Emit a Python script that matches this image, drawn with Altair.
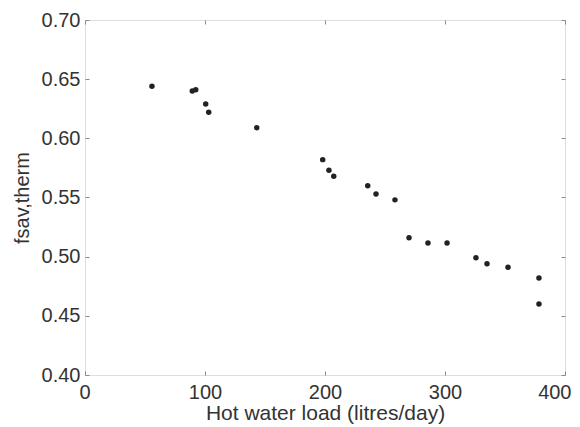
import altair as alt
import pandas as pd

# Data
hot_water_load = [55.8, 89.4, 92.3, 100.6, 103.1, 143.1, 198.1, 203.3, 207.3, 235.6,
                  242.5, 258.3, 270.0, 285.8, 301.7, 325.8, 335.0, 352.5, 378.3, 378.3]
fsav_therm = [0.644, 0.640, 0.641, 0.629, 0.622, 0.609, 0.582, 0.573, 0.568, 0.560,
              0.553, 0.548, 0.516, 0.5115, 0.5115, 0.499, 0.494, 0.491, 0.482, 0.460]
x_ticks = [0, 100, 200, 300, 400]
y_ticks = [0.40, 0.45, 0.50, 0.55, 0.60, 0.65, 0.70]

df = pd.DataFrame({"load": hot_water_load, "fsav": fsav_therm})

W, H = 480, 355
FONT = "Liberation Sans"
TXT = "#333333"
AX = "#8a8a8a"

xs = alt.Scale(domain=[0, 400], nice=False, zero=False)
ys = alt.Scale(domain=[0.40, 0.70], nice=False, zero=False)

common_tick = dict(grid=False, domain=False, ticks=True, labels=False, title="",
                   tickColor=AX, tickSize=4, tickWidth=1)

base = alt.Chart(df)

points = base.mark_circle(size=30, color="#222222", opacity=1).encode(
    x=alt.X("load:Q", scale=xs, axis=alt.Axis(
        orient="bottom", values=x_ticks, format="d", title="Hot water load (litres/day)",
        grid=False, domain=False, ticks=False, labelPadding=7,
        labelFont=FONT, labelFontSize=20, labelColor=TXT,
        titleFont=FONT, titleFontSize=21, titleFontWeight="normal", titleColor=TXT,
        titlePadding=0, labelFlush=True, labelFlushOffset=6)),
    y=alt.Y("fsav:Q", scale=ys, axis=alt.Axis(
        orient="left", values=y_ticks, format=".2f", title="fsav,therm",
        grid=False, domain=False, ticks=False, labelPadding=5,
        labelFont=FONT, labelFontSize=20, labelColor=TXT,
        titleFont=FONT, titleFontSize=20, titleFontWeight="normal", titleColor=TXT,
        titlePadding=9)),
)

# inward ticks at bottom and left edges
ticks_a = base.mark_point(opacity=0).encode(
    x=alt.X("load:Q", scale=xs, axis=alt.Axis(orient="top", offset=-H, values=x_ticks, **common_tick)),
    y=alt.Y("fsav:Q", scale=ys, axis=alt.Axis(orient="right", offset=-W, values=y_ticks, **common_tick)),
)
# inward ticks at top and right edges
ticks_b = base.mark_point(opacity=0).encode(
    x=alt.X("load:Q", scale=xs, axis=alt.Axis(orient="bottom", offset=-H, values=x_ticks, **common_tick)),
    y=alt.Y("fsav:Q", scale=ys, axis=alt.Axis(orient="left", offset=-W, values=y_ticks, **common_tick)),
)

chart = alt.layer(points, ticks_a, ticks_b).resolve_axis(
    x="independent", y="independent"
).properties(
    width=W, height=H,
    autosize=alt.AutoSizeParams(type="none"),
    padding={"left": 77, "top": 12, "right": 7, "bottom": 50},
).configure_view(
    stroke=AX, strokeWidth=1.5
).configure(background="white")

chart.save("out.html", embed_options={"renderer": "svg", "actions": False})
